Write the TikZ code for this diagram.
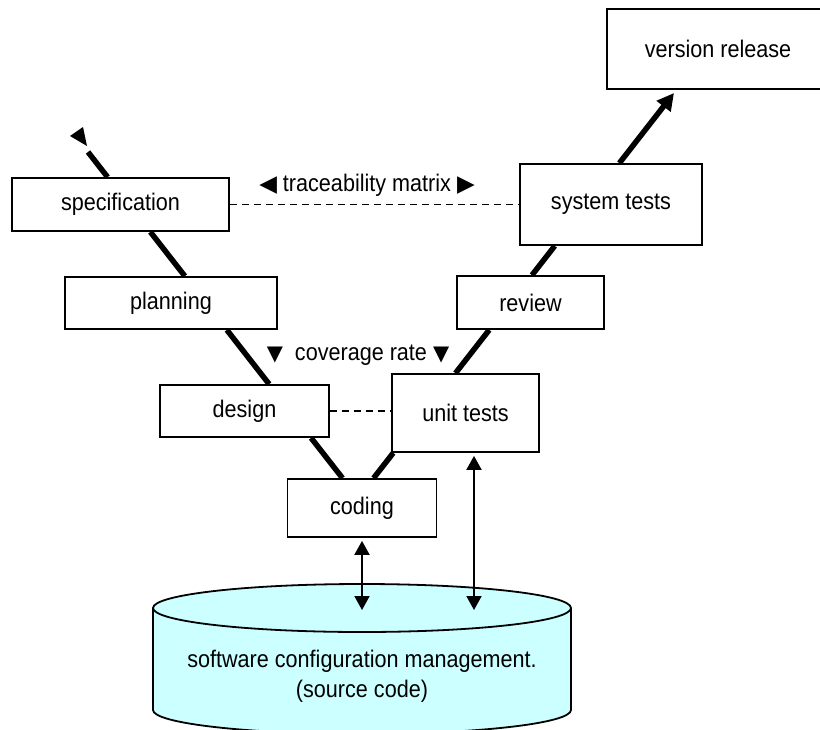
\documentclass[tikz,border=0pt]{standalone}
\usepackage{fontspec}
\setmainfont[FakeStretch=0.9]{Liberation Sans}
\newfontfamily\symfont{DejaVu Sans}
\usetikzlibrary{arrows.meta,calc,backgrounds}
\definecolor{cylfill}{HTML}{CCFFFF}
\begin{document}
\begin{tikzpicture}[x=1pt,y=-1pt,
  box/.style={draw,line width=1.8pt,fill=white,inner sep=0pt,font=\fontsize{24}{28}\selectfont},
  lbl/.style={inner sep=0pt,font=\fontsize{24}{30}\selectfont},
  vline/.style={line width=5.5pt},
  trace/.style={line width=1.6pt,dash pattern=on 7.5pt off 4.5pt},
  dbl/.style={line width=2pt,{Triangle[length=14pt,width=15pt]}-{Triangle[length=14pt,width=15pt]}}]
\useasboundingbox (0,0) rectangle (820,729);
% database cylinder
\filldraw[fill=cylfill,line width=1.8pt] (153,608) -- (153,710)
  arc[start angle=180,end angle=360,x radius=209pt,y radius=24pt] -- (571,608)
  arc[start angle=0,end angle=180,x radius=209pt,y radius=24pt] -- cycle;
\draw[line width=1.8pt] (153,608) arc[start angle=180,end angle=360,x radius=209pt,y radius=24pt];
\node[lbl,align=center] (scm) at (362,676) {software configuration management.\\(source code)};
% boxes
\node[box,minimum width=217pt,minimum height=53pt] (spec) at (120.5,204.5) {specification};
\node[box,minimum width=212pt,minimum height=52pt] (plan) at (171,303) {planning};
\node[box,minimum width=169pt,minimum height=52pt] (design) at (244.5,411) {design};
\node[box,minimum width=149pt,minimum height=58pt] (coding) at (362,508) {coding};
\node[box,minimum width=147pt,minimum height=78pt] (unit) at (465.5,413) {unit tests};
\node[box,minimum width=147pt,minimum height=53pt] (review) at (530.5,302.5) {review};
\node[box,minimum width=182pt,minimum height=81pt] (sys) at (611,204.5) {system tests};
\node[box,minimum width=222pt,minimum height=80pt] (rel) at (718,49) {version release};
% V legs
\coordinate (lA) at (88,152);
\coordinate (lB) at (358,498);
\coordinate (rC) at (674,93);
\begin{pgfonlayer}{background}
\draw[vline] (intersection of lA--lB and spec.north west--spec.north east) -- (lA);
\draw[vline] (intersection of lA--lB and spec.south west--spec.south east) -- (intersection of lA--lB and plan.north west--plan.north east);
\draw[vline] (intersection of lA--lB and plan.south west--plan.south east) -- (intersection of lA--lB and design.north west--design.north east);
\draw[vline] (intersection of lA--lB and design.south west--design.south east) -- (intersection of lA--lB and coding.north west--coding.north east);
\draw[vline] (intersection of lB--rC and coding.north west--coding.north east) -- (intersection of lB--rC and unit.south west--unit.south east);
\draw[vline] (intersection of lB--rC and unit.north west--unit.north east) -- (intersection of lB--rC and review.south west--review.south east);
\draw[vline] (intersection of lB--rC and review.north west--review.north east) -- (intersection of lB--rC and sys.south west--sys.south east);
\end{pgfonlayer}
\draw[vline,-{Triangle[length=17pt,width=17pt]}] (intersection of lB--rC and sys.north west--sys.north east) -- (rC);
\fill (70,136) -- (83,127) -- (87,146) -- cycle;
% dashed links
\draw[trace] (spec.east) -- (sys.west);
\draw[trace] (design.east) -- (design.east -| unit.west);
% labels
\node[lbl] (tracelbl) at (367,185) {{\symfont\fontsize{23}{30}\selectfont ◀} traceability matrix {\symfont\fontsize{23}{30}\selectfont ▶}};
\node[lbl] (covlbl) at (358,355) {{\symfont\fontsize{21}{24}\selectfont ▼}\ \ coverage rate {\symfont\fontsize{21}{24}\selectfont ▼}};
% repository arrows
\coordinate (cEnd) at (362,610);
\coordinate (uEnd) at (474,610);
\draw[dbl,shorten <=3pt] (coding.south) -- (cEnd);
\draw[dbl,shorten <=3pt] (uEnd |- unit.south) -- (uEnd);
\end{tikzpicture}
\end{document}
